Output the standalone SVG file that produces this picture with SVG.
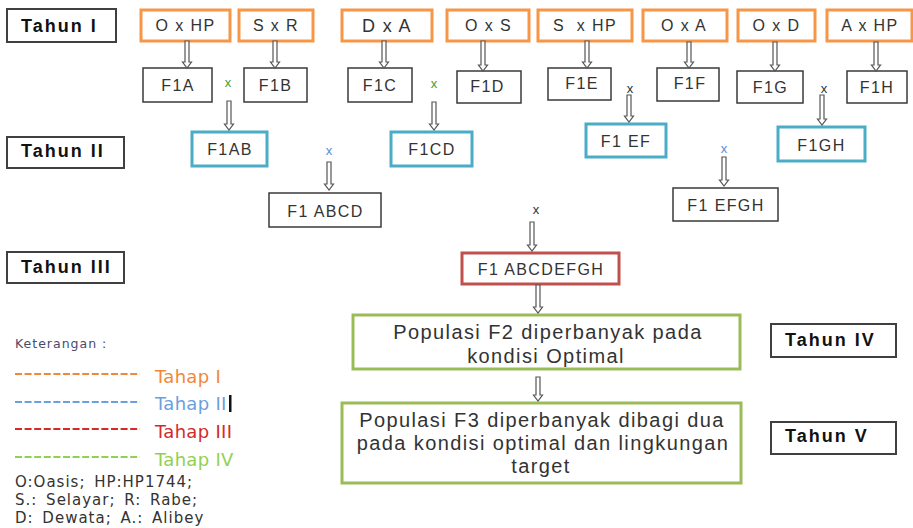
<svg xmlns="http://www.w3.org/2000/svg" width="913" height="528" viewBox="0 0 913 528">
<style>
.bg{fill:#fff}
.lbl rect{fill:#fff;stroke:#404040;stroke-width:2}
.lbl text{font-family:"Liberation Sans",Arial,sans-serif;font-weight:bold;font-size:18px;letter-spacing:2px;fill:#111}
.par rect{fill:#fff;stroke:#f79646;stroke-width:3}
.f1 rect{fill:#fff;stroke:#3a3a3a;stroke-width:1.5}
.f2 rect{fill:#fff;stroke:#4bacc6;stroke-width:3}
.f3 rect{fill:#fff;stroke:#c0504d;stroke-width:3}
.f4 rect{fill:#fff;stroke:#9bbb59;stroke-width:3}
.t{font-family:"Liberation Sans",Arial,sans-serif;font-size:16px;letter-spacing:1.4px;fill:#333;text-anchor:middle}
.big{font-size:20px;letter-spacing:1.4px}
.cx{font-family:"Liberation Sans",Arial,sans-serif;font-size:13px;text-anchor:middle}
.arr path{fill:#fff;stroke:#555;stroke-width:1.2}
.leg{font-family:"DejaVu Sans",Verdana,sans-serif}
.tp{font-size:18px;letter-spacing:0.3px}
</style>
<rect class="bg" x="0" y="0" width="913" height="528"/>

<!-- Year labels -->
<g id="tahun1" class="lbl"><rect x="7" y="9" width="109" height="33"/><text x="21" y="32">Tahun I</text></g>
<g id="tahun2" class="lbl"><rect x="7" y="137" width="117" height="31"/><text x="21" y="157">Tahun II</text></g>
<g id="tahun3" class="lbl"><rect x="7" y="252" width="117" height="31"/><text x="21" y="273">Tahun III</text></g>
<g id="tahun4" class="lbl"><rect x="771" y="324" width="125" height="33"/><text x="785" y="346">Tahun IV</text></g>
<g id="tahun5" class="lbl"><rect x="771" y="422" width="125" height="32"/><text x="785" y="442">Tahun V</text></g>

<!-- Parent crosses -->
<g id="p_OxHP" class="par"><rect x="141" y="10" width="89" height="31"/><text class="t" x="185.5" y="31">O x HP</text></g>
<g id="p_SxR" class="par"><rect x="239" y="10" width="74" height="31"/><text class="t" x="276" y="31">S x R</text></g>
<g id="p_DxA" class="par"><rect x="342" y="10" width="90" height="31"/><text class="t" x="387" y="32" style="font-size:18px">D x A</text></g>
<g id="p_OxS" class="par"><rect x="447" y="10" width="82" height="31"/><text class="t" x="488.5" y="31">O x S</text></g>
<g id="p_SxHP" class="par"><rect x="538" y="10" width="94" height="31"/><text class="t" x="585" y="31" xml:space="preserve">S  x HP</text></g>
<g id="p_OxA" class="par"><rect x="643" y="10" width="84" height="31"/><text class="t" x="684" y="31">O x A</text></g>
<g id="p_OxD" class="par"><rect x="738" y="10" width="77" height="31"/><text class="t" x="776.5" y="31">O x D</text></g>
<g id="p_AxHP" class="par"><rect x="827" y="10" width="85" height="31"/><text class="t" x="870" y="31">A x HP</text></g>

<!-- F1 -->
<g id="F1A" class="f1"><rect x="143" y="68" width="69" height="34"/><text class="t" x="178" y="91">F1A</text></g>
<g id="F1B" class="f1"><rect x="244" y="68" width="63" height="34"/><text class="t" x="275.5" y="91">F1B</text></g>
<g id="F1C" class="f1"><rect x="348" y="68" width="64" height="34"/><text class="t" x="380" y="91">F1C</text></g>
<g id="F1D" class="f1"><rect x="457" y="71" width="64" height="32"/><text class="t" x="487.5" y="92">F1D</text></g>
<g id="F1E" class="f1"><rect x="548" y="68" width="63" height="32"/><text class="t" x="582" y="89">F1E</text></g>
<g id="F1F" class="f1"><rect x="657" y="68" width="62" height="33"/><text class="t" x="690" y="88.5">F1F</text></g>
<g id="F1G" class="f1"><rect x="737" y="71" width="66" height="32"/><text class="t" x="770.5" y="92.5">F1G</text></g>
<g id="F1H" class="f1"><rect x="847" y="71" width="60" height="32"/><text class="t" x="877" y="92.5">F1H</text></g>

<!-- F1 double crosses -->
<g id="F1AB" class="f2"><rect x="192" y="132" width="75" height="34"/><text class="t" x="230" y="155">F1AB</text></g>
<g id="F1CD" class="f2"><rect x="391" y="132" width="81" height="34"/><text class="t" x="432" y="155">F1CD</text></g>
<g id="F1EF" class="f2"><rect x="586" y="124" width="80" height="33"/><text class="t" x="626" y="147">F1 EF</text></g>
<g id="F1GH" class="f2"><rect x="778" y="127" width="87" height="34"/><text class="t" x="821.5" y="151">F1GH</text></g>

<g id="F1ABCD" class="f1"><rect x="269" y="193" width="112" height="34"/><text class="t" x="325.5" y="217">F1 ABCD</text></g>
<g id="F1EFGH" class="f1"><rect x="673" y="188" width="105" height="33"/><text class="t" x="726" y="211">F1 EFGH</text></g>

<g id="F1ABCDEFGH" class="f3"><rect x="462" y="253" width="157" height="31"/><text class="t" x="541" y="275">F1 ABCDEFGH</text></g>

<g id="F2pop" class="f4"><rect x="353" y="315" width="387" height="54"/>
<text class="t big" x="548" y="339">Populasi F2 diperbanyak pada</text>
<text class="t big" x="546" y="363">kondisi Optimal</text></g>

<g id="F3pop" class="f4"><rect x="342" y="403" width="399" height="80"/>
<text class="t big" x="542" y="427">Populasi F3 diperbanyak dibagi dua</text>
<text class="t big" x="543" y="450">pada kondisi optimal dan lingkungan</text>
<text class="t big" x="541" y="473">target</text></g>

<!-- Connectors -->
<g id="connectors" class="arr">
<path d="M185 41V62H182.5L187 68L191.5 62H189V41Z"/>
<path d="M273 41V62H270.5L275 68L279.5 62H277V41Z"/>
<path d="M382 41V62H379.5L384 68L388.5 62H386V41Z"/>
<path d="M481 41V65H478.5L483 71L487.5 65H485V41Z"/>
<path d="M585 41V62H582.5L587 68L591.5 62H589V41Z"/>
<path d="M687 42V62H684.5L689 68L693.5 62H691V42Z"/>
<path d="M773 42V65H770.5L775 71L779.5 65H777V42Z"/>
<path d="M874 42V65H871.5L876 71L880.5 65H878V42Z"/>
<path d="M227 101V124H224.5L229 130L233.5 124H231V101Z"/>
<path d="M432 102V124H429.5L434 130L438.5 124H436V102Z"/>
<path d="M627 95V116H624.5L629 122L633.5 116H631V95Z"/>
<path d="M820 95V119H817.5L822 125L826.5 119H824V95Z"/>
<path d="M327 162V184H324.5L329 190L333.5 184H331V162Z"/>
<path d="M722 157V180H719.5L724 186L728.5 180H726V157Z"/>
<path d="M530 222V245H527.5L532 251L536.5 245H534V222Z"/>
<path d="M536 285V307H533.5L538 313L542.5 307H540V285Z"/>
<path d="M536 377V395H533.5L538 401L542.5 395H540V377Z"/>
<text class="cx" x="228" y="87" fill="#4e9a2a">x</text>
<text class="cx" x="434" y="88" fill="#4e9a2a">x</text>
<text class="cx" x="630" y="93" fill="#333">x</text>
<text class="cx" x="824" y="93" fill="#333">x</text>
<text class="cx" x="329" y="155" fill="#5b8bd8">x</text>
<text class="cx" x="724" y="153" fill="#5b8bd8">x</text>
<text class="cx" x="536" y="214" fill="#333">x</text>
</g>

<!-- Legend -->
<g id="legend" class="leg">
<text x="15" y="348" style="font-size:12.5px;letter-spacing:1px" fill="#4a4a6a">Keterangan :</text>
<g stroke-width="2" stroke-dasharray="7 2.6">
<line x1="15" y1="374" x2="140" y2="374" stroke="#f0883a"/>
<line x1="15" y1="402" x2="140" y2="402" stroke="#6a9fe0"/>
<line x1="15" y1="429" x2="140" y2="429" stroke="#d42a2a"/>
<line x1="15" y1="457" x2="140" y2="457" stroke="#92d050"/>
</g>
<text class="tp" x="155" y="383" fill="#f0883a">Tahap I</text>
<text class="tp" x="155" y="410" fill="#6a9fe0">Tahap II</text>
<rect x="229" y="395" width="2.5" height="17" fill="#111"/>
<text class="tp" x="155" y="438" fill="#d42a2a">Tahap III</text>
<text class="tp" x="155" y="466" fill="#92d050">Tahap IV</text>
<g style="font-size:15px;letter-spacing:1px;word-spacing:3px" fill="#333">
<text x="15" y="487">O:Oasis; HP:HP1744;</text>
<text x="15" y="505">S.: Selayar; R: Rabe;</text>
<text x="15" y="523">D: Dewata; A.: Alibey</text>
</g>
</g>
</svg>
